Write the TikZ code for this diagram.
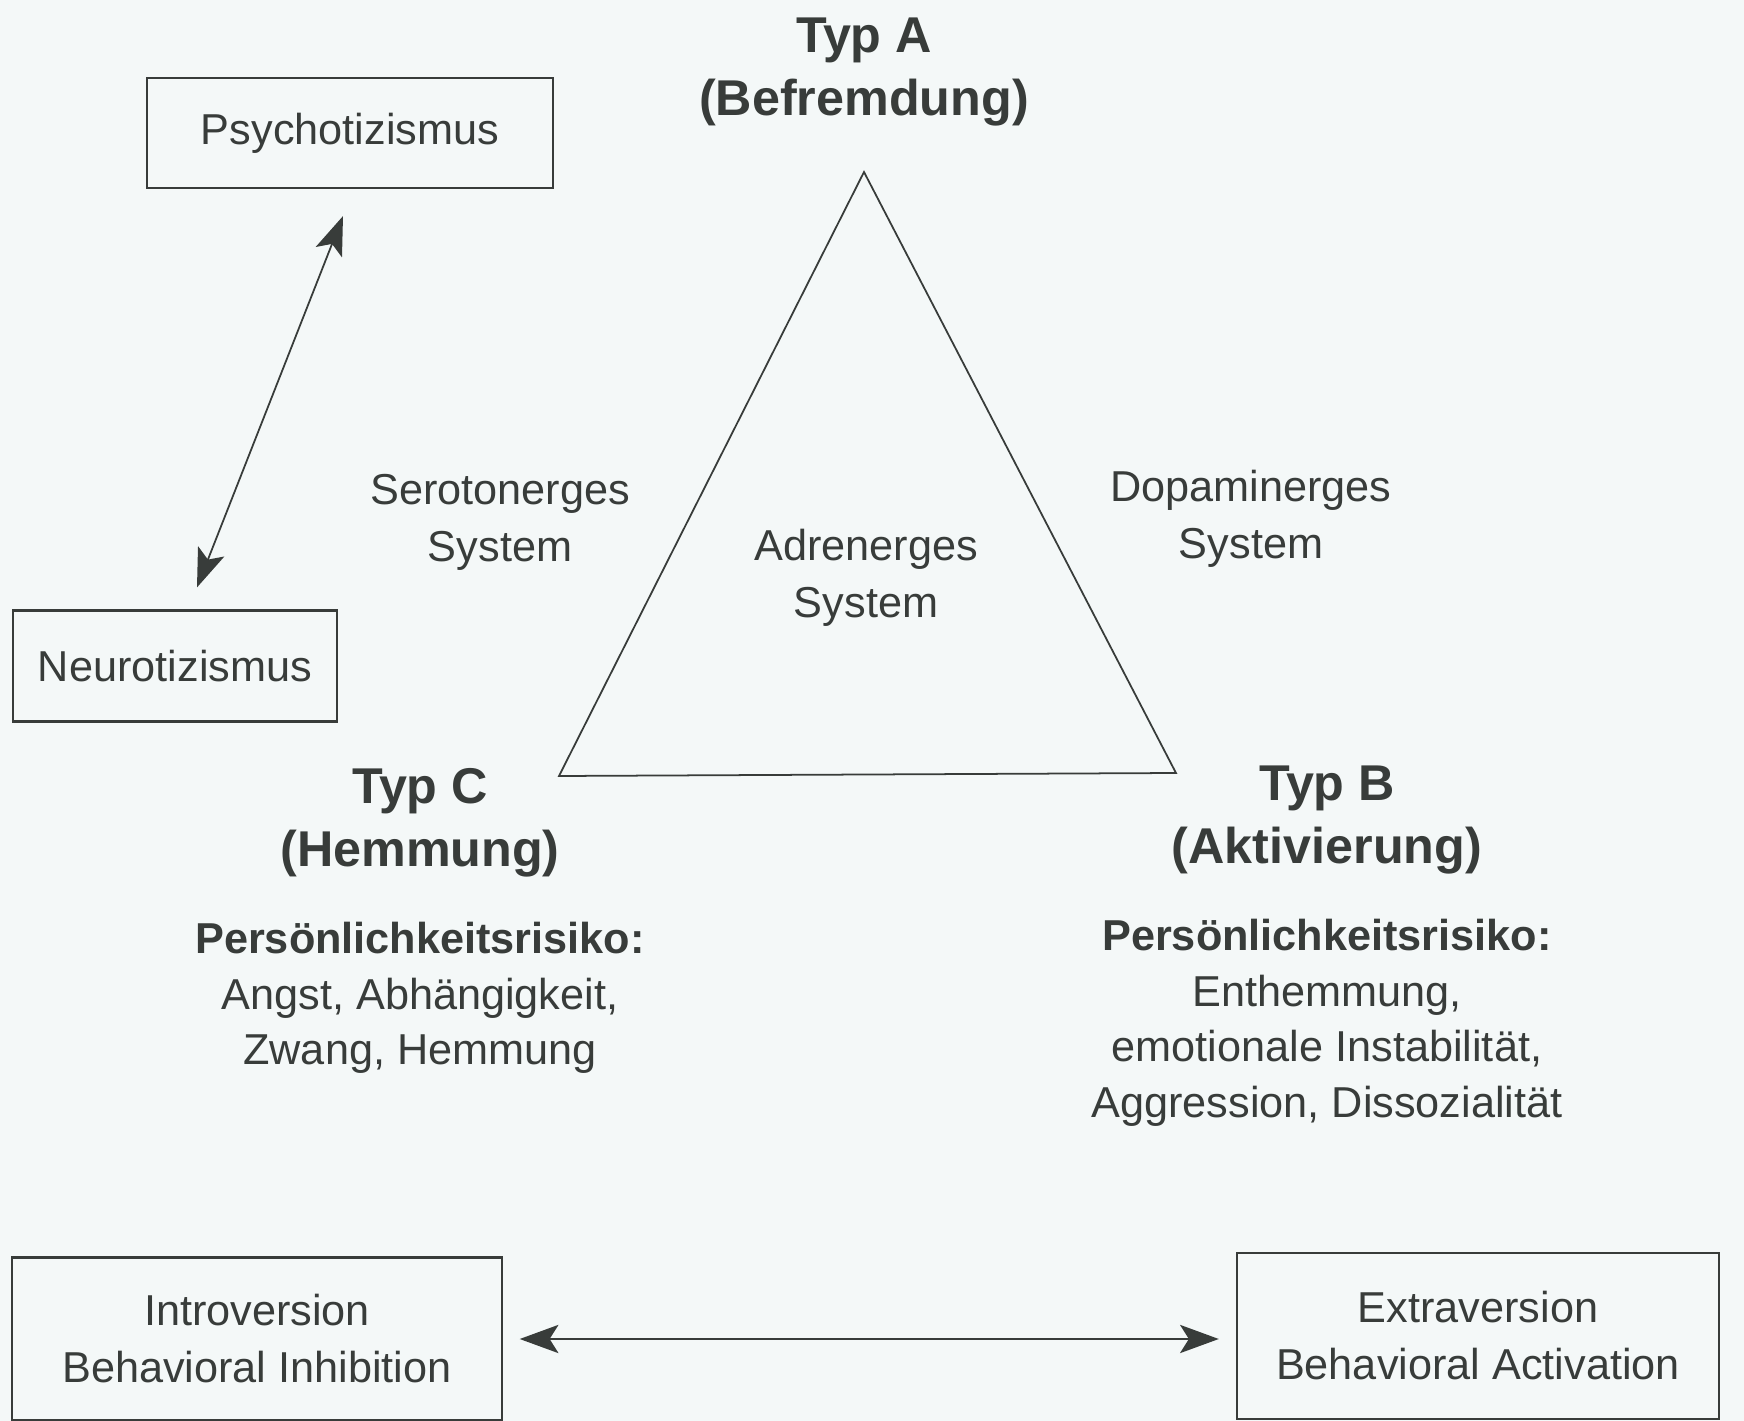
\documentclass[tikz,border=0pt]{standalone}
\usepackage{fontspec}
\setmainfont{Liberation Sans}
\usetikzlibrary{arrows.meta,positioning}
\definecolor{ink}{RGB}{56,60,58}
\definecolor{paper}{RGB}{244,248,248}

\begin{document}
\begin{tikzpicture}[
        x=0.01cm, y=-0.01cm,
        every node/.style={text=ink, align=center, font=\fontsize{12.3}{16.2}\selectfont},
        box/.style={draw=ink, rectangle, line width=0.6pt, inner sep=0pt},
        typ/.style={font=\bfseries\fontsize{14.3}{18}\selectfont},
        risk/.style={font=\fontsize{12.3}{15.8}\selectfont},
        arrow/.style={{Stealth[length=11pt,width=8pt,inset=2.5pt]}-{Stealth[length=11pt,width=8pt,inset=2.5pt]}, draw=ink, line width=0.5pt}
    ]
        % Paper
        \fill[paper] (0,0) rectangle (1744,1421);
        \useasboundingbox (0,0) rectangle (1744,1421);

        % Triangle of the three systems
        \coordinate (apex) at (864,172);
        \coordinate (left) at (559,776);
        \coordinate (right) at (1176,773);
        \draw[ink, line width=0.5pt] (apex) -- (left) -- (right) -- cycle;

        \node[typ] (typa) at (864,72) {Typ A\\(Befremdung)};
        \node (adren) at (866,578) {Adrenerges\\System};
        \node (sero) at (500,522) {Serotonerges\\System};
        \node (dopa) at (1251,519) {Dopaminerges\\System};

        % Types with personality risks
        \node[typ] (typc) at (420,823) {Typ C\\(Hemmung)};
        \node[risk] (riskc) at (420,998) {\textbf{Persönlichkeitsrisiko:}\\Angst, Abhängigkeit,\\Zwang, Hemmung};
        \node[typ] (typb) at (1327,820) {Typ B\\(Aktivierung)};
        \node[risk] (riskb) at (1327,1023) {\textbf{Persönlichkeitsrisiko:}\\Enthemmung,\\emotionale Instabilität,\\Aggression, Dissozialität};

        % Boxes
        \node[box, minimum width=4.05cm, minimum height=1.10cm] (psych) at (350,133) {Psychotizismus};
        \node[box, minimum width=3.24cm, minimum height=1.11cm] (neuro) at (175,666) {Neurotizismus};
        \node[box, minimum width=4.89cm, minimum height=1.63cm] (intro) at (257,1339) {Introversion\\Behavioral Inhibition};
        \node[box, minimum width=4.82cm, minimum height=1.66cm] (extra) at (1478,1336) {Extraversion\\Behavioral Activation};

        % Arrows
        \draw[arrow] ([shift={(22,-22)}]neuro.north) -- ([shift={(-7,27)}]psych.south);
        \draw[arrow, line width=0.8pt] ([xshift=0.17cm]intro.east) -- ([xshift=-0.17cm]extra.west |- intro.east);
    \end{tikzpicture}
\end{document}
